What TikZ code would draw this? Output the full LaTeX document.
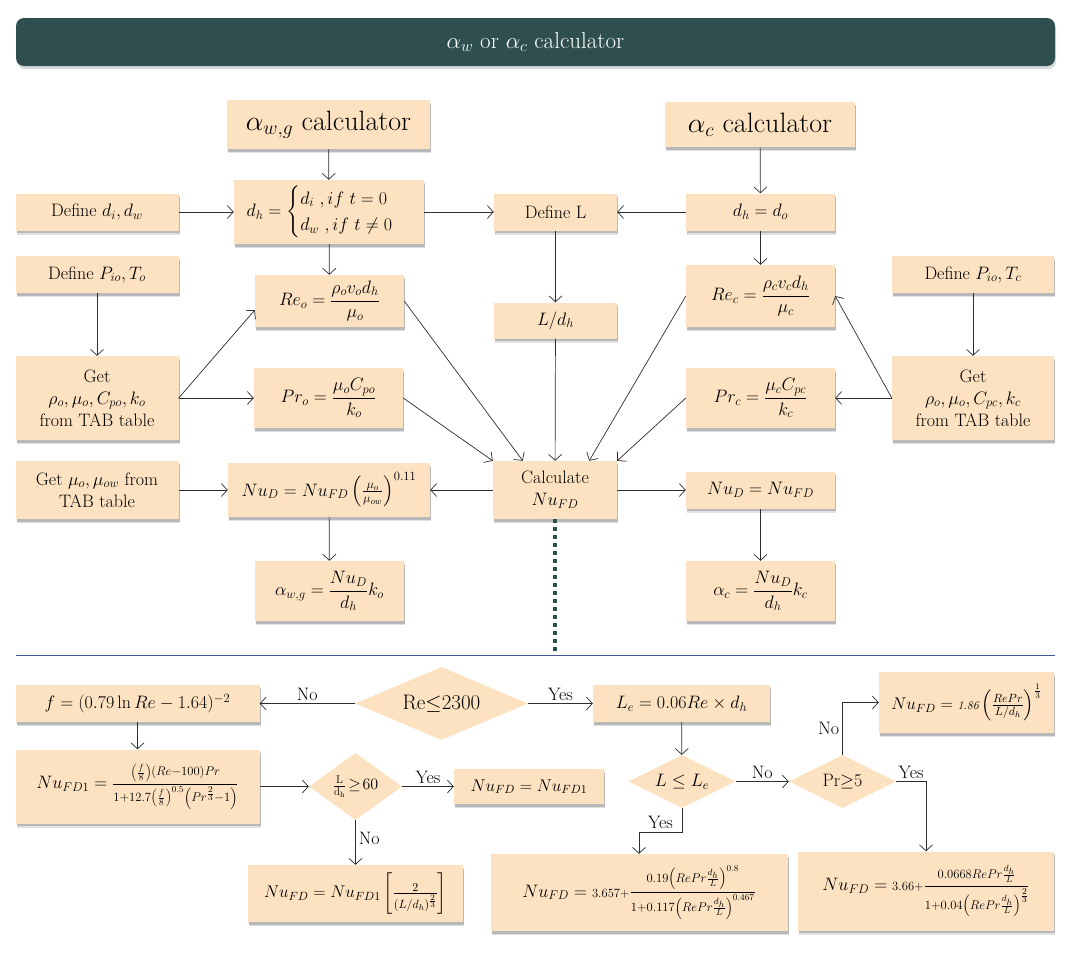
\RequirePackage{fix-cm}
\documentclass[tikz,border=0pt]{standalone}
\usepackage{amsmath}
\usepackage{fontspec}
\usepackage{xcolor}
\usetikzlibrary{positioning, arrows.meta, shapes, shadows}
\definecolor{peach}{RGB}{252,226,192}
\definecolor{slate}{RGB}{47,79,79}
\definecolor{rulecol}{RGB}{72,88,150}
\definecolor{ink}{RGB}{45,45,45}

\begin{document}
\begin{tikzpicture}[x=1pt, y=-1pt,
    blk/.style={rectangle, fill=peach, align=center, inner sep=2pt, font=\fontsize{18}{22}\selectfont,
        drop shadow={shadow xshift=1pt, shadow yshift=-4pt, fill=black, opacity=0.12},
        drop shadow={shadow xshift=1pt, shadow yshift=-2.5pt, fill=black, opacity=0.18}},
    big/.style={blk, font=\fontsize{28}{32}\selectfont},
    dec/.style={diamond, fill=peach, inner sep=0pt, aspect=2, font=\fontsize{18}{22}\selectfont},
    arr/.style={draw=ink, line width=0.7pt, -{Straight Barb[length=6pt,width=13pt]}},
    lbl/.style={font=\fontsize{18}{22}\selectfont, inner sep=3pt}]

    \useasboundingbox (0,0) rectangle (1072,967);

    \node[fill=slate, rounded corners=8pt, minimum width=1039pt, minimum height=48pt, text=white,
        font=\fontsize{23}{27}\selectfont, drop shadow={shadow xshift=1pt, shadow yshift=-3pt, opacity=0.3}]
        (head) at (535.5,42) {$\alpha_w$ or $\alpha_c$ calculator};

    \node[big, minimum width=203pt, minimum height=49pt] (awg) at (328.5,124.5) {$\alpha_{w,g}$ calculator};
    \node[big, minimum width=190pt, minimum height=45pt] (ac) at (760,124.5) {$\alpha_c$ calculator};

    \node[blk, minimum width=163pt, minimum height=37pt] (defd) at (97,212) {Define $d_i, d_w$};
    \node[blk, minimum width=190pt, minimum height=64pt] (dh) at (329,212)
        {$d_h=\begin{cases} d_i\ , if\ t=0\\ d_w\ , if\ t\neq 0\end{cases}$};
    \node[blk, minimum width=123pt, minimum height=37pt] (defl) at (555.5,212) {Define L};
    \node[blk, minimum width=149pt, minimum height=37pt] (dhdo) at (760.5,212) {$d_h = d_o$};

    \node[blk, minimum width=163pt, minimum height=37pt] (defpo) at (97,274.5) {Define $P_{io}, T_o$};
    \node[blk, minimum width=149pt, minimum height=52pt] (reo) at (329.5,301) {$Re_o = \dfrac{\rho_o v_o d_h}{\mu_o}$};
    \node[blk, minimum width=123pt, minimum height=36pt] (ld) at (555.5,320.5) {$L/d_h$};
    \node[blk, minimum width=149pt, minimum height=62pt] (rec) at (760.5,296) {$Re_c = \dfrac{\rho_c v_c d_h}{\mu_c}$};
    \node[blk, minimum width=162pt, minimum height=37pt] (defpc) at (973,274.5) {Define $P_{io}, T_c$};

    \node[blk, minimum width=163pt, minimum height=84pt] (getl) at (97,398)
        {Get\\ $\rho_o,\mu_o,C_{po},k_o$\\ from TAB table};
    \node[blk, minimum width=149pt, minimum height=60pt] (pro) at (328.5,398) {$Pr_o = \dfrac{\mu_o C_{po}}{k_o}$};
    \node[blk, minimum width=149pt, minimum height=60pt] (prc) at (760.5,398) {$Pr_c = \dfrac{\mu_c C_{pc}}{k_c}$};
    \node[blk, minimum width=162pt, minimum height=84pt] (getr) at (973,398)
        {Get\\ $\rho_o,\mu_o,C_{pc},k_c$\\ from TAB table};

    \node[blk, minimum width=163pt, minimum height=58pt] (getmu) at (97,490) {Get $\mu_o,\mu_{ow}$ from\\ TAB table};
    \node[blk, minimum width=202pt, minimum height=54pt] (nud) at (329,490)
        {$Nu_D = Nu_{FD}\left(\frac{\mu_o}{\mu_{ow}}\right)^{0.11}$};
    \node[blk, minimum width=124pt, minimum height=58pt] (calc) at (555,490) {Calculate\\ $Nu_{FD}$};
    \node[blk, minimum width=149pt, minimum height=37pt] (nudr) at (760.5,490) {$Nu_D = Nu_{FD}$};

    \node[blk, minimum width=149pt, minimum height=60pt] (awgk) at (329.5,591) {$\alpha_{w,g} = \dfrac{Nu_D}{d_h}k_o$};
    \node[blk, minimum width=149pt, minimum height=60pt] (ack) at (760.5,591) {$\alpha_c = \dfrac{Nu_D}{d_h}k_c$};

    \coordinate (sepl) at (16,655);
    \coordinate (sepr) at (1055,655);
    \draw[rulecol, line width=0.8pt] (sepl) -- (sepr);

    \draw[arr] (awg) -- (dh);
    \draw[arr] (defd) -- (dh);
    \draw[arr] (dh) -- (defl);
    \draw[arr] (dh) -- (reo);
    \draw[arr] (ac) -- (dhdo);
    \draw[arr] (dhdo) -- (defl);
    \draw[arr] (dhdo) -- (rec);
    \draw[arr] (defl) -- (ld);
    \draw[arr] (ld) -- (calc);
    \draw[arr] (defpo) -- (getl);
    \draw[arr] (defpc) -- (getr);
    \draw[arr] (getl.east) -- ([yshift=-9pt]reo.west);
    \draw[arr] (getl.east) -- (pro.west);
    \draw[arr] (reo.east) -- ([xshift=30pt]calc.north west);
    \draw[arr] (pro.east) -- (calc.north west);
    \draw[arr] (getr.west) -- (rec.east);
    \draw[arr] (getr.west) -- (prc.east);
    \draw[arr] (rec.west) -- ([xshift=-28pt]calc.north east);
    \draw[arr] (prc.west) -- (calc.north east);
    \draw[arr] (calc) -- (nud);
    \draw[arr] (getmu) -- (nud);
    \draw[arr] (nud) -- (awgk);
    \draw[arr] (calc) -- (nudr);
    \draw[arr] (nudr) -- (ack);
    \draw[slate, line width=4pt, dash pattern=on 4pt off 4pt] (calc.south) -- (calc.south |- sepl);

    \node[blk, minimum width=244pt, minimum height=37pt] (fbox) at (137.5,703.5) {$f = (0.79\ln Re - 1.64)^{-2}$};
    \node[dec, minimum width=173pt, minimum height=73pt, font=\fontsize{21}{25}\selectfont] (relam) at (441.5,703.5) {Re$\leq$2300};
    \node[blk, minimum width=177pt, minimum height=37pt] (lebox) at (681.5,703.5) {$L_e = 0.06Re\times d_h$};
    \node[blk, minimum width=175pt, minimum height=61pt, font=\fontsize{17}{21}\selectfont] (nu186) at (966.5,702.5)
        {$Nu_{FD} ={\scriptstyle\mathit{1.86}}\left(\frac{RePr}{L/d_h}\right)^{\frac{1}{3}}$};

    \node[blk, minimum width=244pt, minimum height=74pt] (nufd1) at (137.5,786.5)
        {$Nu_{FD1} = \dfrac{\scriptstyle\left(\frac{f}{8}\right)(Re-100)Pr}{\scriptstyle 1+12.7\left(\frac{f}{8}\right)^{0.5}\left(Pr^{\frac{2}{3}}-1\right)}$};
    \node[dec, minimum width=93pt, minimum height=67pt, font=\fontsize{16}{19}\selectfont] (ldd) at (355.5,786.5)
        {$\frac{\mathrm{L}}{\mathrm{d_h}}\!\geq\!60$};
    \node[blk, minimum width=150pt, minimum height=35pt, font=\fontsize{17}{21}\selectfont] (nueq) at (529,786.5) {$Nu_{FD} = Nu_{FD1}$};
    \node[dec, minimum width=107pt, minimum height=53pt] (lle) at (682,781.5) {$L\leq L_e$};
    \node[dec, minimum width=107pt, minimum height=53pt] (pr5) at (842.5,781.5) {Pr$\geq$5};

    \node[blk, minimum width=215pt, minimum height=57pt, font=\fontsize{17}{21}\selectfont] (nulam) at (355.5,893.5)
        {$Nu_{FD} = Nu_{FD1}\left[\frac{2}{(L/d_h)^{\frac{2}{3}}}\right]$};
    \node[blk, minimum width=297pt, minimum height=77pt] (nu3657) at (639,892.5)
        {$Nu_{FD} = {\scriptstyle 3.657+}\dfrac{\scriptstyle 0.19\left(RePr\frac{d_h}{L}\right)^{0.8}}{\scriptstyle 1+0.117\left(RePr\frac{d_h}{L}\right)^{0.467}}$};
    \node[blk, minimum width=256pt, minimum height=79pt] (nu366) at (926,891)
        {$Nu_{FD} = {\scriptstyle 3.66+}\dfrac{\scriptstyle 0.0668RePr\frac{d_h}{L}}{\scriptstyle 1+0.04\left(RePr\frac{d_h}{L}\right)^{\frac{2}{3}}}$};

    \draw[arr] (relam) -- node[lbl, above] {No} (fbox);
    \draw[arr] (relam) -- node[lbl, above] {Yes} (lebox);
    \draw[arr] (fbox) -- (nufd1);
    \draw[arr] (lebox) -- (lle);
    \draw[arr] (nufd1) -- (ldd);
    \draw[arr] (ldd) -- node[lbl, above] {Yes} (nueq);
    \draw[arr] (ldd) -- node[lbl, right, pos=0.4] {No} (nulam);
    \draw[arr] (lle.south) -- ++(0,24) -| node[lbl, above, pos=0.25] {Yes} (nu3657.north);
    \draw[arr] (lle) -- node[lbl, above] {No} (pr5);
    \draw[arr] (pr5.north) |- node[lbl, left, pos=0.25] {No} (nu186.west);
    \draw[arr] (pr5.east) -| node[lbl, above, pos=0.25] {Yes} (nu366.north);
\end{tikzpicture}
\end{document}
